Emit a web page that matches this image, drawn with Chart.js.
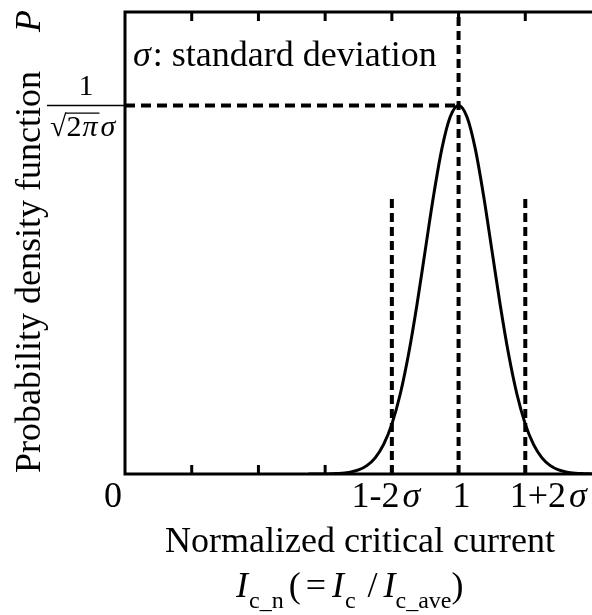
<!DOCTYPE html>
<html>
<head>
<meta charset="utf-8">
<script src="https://cdn.jsdelivr.net/npm/chart.js@4.4.0/dist/chart.umd.min.js"></script>
<style>
  html, body { margin: 0; padding: 0; background: #fff; }
  #wrap { width: 592px; height: 615px; }
</style>
</head>
<body>
<div id="wrap"><canvas id="pdf" width="592" height="615"></canvas></div>
<script>
// Normal distribution of normalized Ic (sigma = 0.1)
const curveX = [0.55, 0.575, 0.6, 0.625, 0.65, 0.675, 0.7, 0.725, 0.75, 0.775,
  0.8, 0.825, 0.85, 0.875, 0.9, 0.925, 0.95, 0.975, 1.0, 1.025, 1.05, 1.075,
  1.1, 1.125, 1.15, 1.175, 1.2, 1.225, 1.25, 1.275, 1.3, 1.325, 1.35, 1.375, 1.4];
const curveY = [0.000, 0.001, 0.001, 0.004, 0.009, 0.020, 0.044, 0.091, 0.175, 0.317,
  0.540, 0.863, 1.295, 1.826, 2.420, 3.011, 3.521, 3.866, 3.989, 3.866, 3.521, 3.011,
  2.420, 1.826, 1.295, 0.863, 0.540, 0.317, 0.175, 0.091, 0.044, 0.020, 0.009, 0.004, 0.001];

// peak = 1 / (sqrt(2 pi) sigma)
const peakValue = 3.989;
const peakX = 1.0;

// dashed verticals at 1-2s, 1, 1+2s and how high they go
const guideX = [0.8, 1.0, 1.2];
const guideTop = [3, 5, 3];

// axis ranges and inward tick marks
const xRange = [0, 1.4];
const yRange = [0, 5];
const tickValues = [0.2, 0.4, 0.6, 0.8, 1.0, 1.2];

// x tick labels (sigma part drawn in italic)
const xLabelValues = [0, 0.8, 1.0, 1.2];
const xLabelText = ['0', '1-2', '1', '1+2'];
const xLabelSigma = [false, true, false, true];

const SERIF = '"Liberation Serif", "Times New Roman", serif';
const F_BIG = `36px ${SERIF}`;
const F_BIG_I = `italic 36px ${SERIF}`;
const F_SUB = `24px ${SERIF}`;
const F_FRAC = `30px ${SERIF}`;
const F_FRAC_I = `italic 30px ${SERIF}`;

function runsWidth(ctx, runs) {
  let w = 0;
  runs.forEach(r => {
    ctx.font = r.font;
    w += ctx.measureText(r.text).width + (r.gap || 0);
  });
  return w;
}

function drawRuns(ctx, runs, x, y) {
  runs.forEach(r => {
    ctx.font = r.font;
    ctx.fillText(r.text, x, y + (r.dy || 0));
    x += ctx.measureText(r.text).width + (r.gap || 0);
  });
  return x;
}

const annotatePlugin = {
  id: 'annotate',
  afterDraw(chart) {
    const { ctx, chartArea: a, scales: { x, y } } = chart;
    ctx.save();
    ctx.strokeStyle = '#000';
    ctx.fillStyle = '#000';
    ctx.lineCap = 'butt';

    // frame (left, top, bottom); right side falls off the canvas
    ctx.lineWidth = 3;
    ctx.beginPath();
    ctx.moveTo(a.left, a.top);
    ctx.lineTo(a.right, a.top);
    ctx.moveTo(a.left, a.top - 1.5);
    ctx.lineTo(a.left, a.bottom + 1.5);
    ctx.moveTo(a.left, a.bottom);
    ctx.lineTo(a.right, a.bottom);
    // inward ticks
    tickValues.forEach(v => {
      const px = x.getPixelForValue(v);
      ctx.moveTo(px, a.top);
      ctx.lineTo(px, a.top + 9);
      ctx.moveTo(px, a.bottom);
      ctx.lineTo(px, a.bottom - 9);
    });
    ctx.stroke();

    // x tick labels
    const nudge = [-12, -6, 3, 23];
    ctx.textBaseline = 'alphabetic';
    ctx.textAlign = 'left';
    xLabelValues.forEach((v, i) => {
      const runs = [{ text: xLabelText[i], font: F_BIG, gap: xLabelSigma[i] ? 3 : 0 }];
      if (xLabelSigma[i]) runs.push({ text: 'σ', font: F_BIG_I });
      const w = runsWidth(ctx, runs);
      const cx = x.getPixelForValue(v) + nudge[i];
      drawRuns(ctx, runs, cx - w / 2, 507);
    });

    // note in the top-left corner
    drawRuns(ctx, [
      { text: 'σ', font: F_BIG_I, gap: 2 },
      { text: ': standard deviation', font: F_BIG }
    ], 133, 66);

    // peak value label 1 / (sqrt(2 pi) sigma)
    const py = y.getPixelForValue(peakValue);
    ctx.font = F_FRAC;
    ctx.textAlign = 'center';
    ctx.fillText('1', 86, py - 10);
    ctx.textAlign = 'left';
    ctx.lineWidth = 1.5;
    ctx.beginPath();
    ctx.moveTo(47, py);
    ctx.lineTo(a.left, py);
    ctx.stroke();
    ctx.font = F_FRAC;
    const rootW = ctx.measureText('√').width;
    const rootTop = ctx.measureText('√').actualBoundingBoxAscent;
    ctx.fillText('√', 50, py + 31);
    const endX = drawRuns(ctx, [
      { text: '2', font: F_FRAC, gap: 1 },
      { text: 'π', font: F_FRAC_I, gap: 3 }
    ], 50 + rootW, py + 31);
    ctx.font = F_FRAC_I;
    ctx.fillText('σ', endX, py + 31);
    ctx.lineWidth = 1.3;
    ctx.beginPath();
    ctx.moveTo(50 + rootW - 1, py + 31 - rootTop + 0.7);
    ctx.lineTo(endX - 1, py + 31 - rootTop + 0.7);
    ctx.stroke();

    // y axis title
    ctx.save();
    ctx.translate(40, 473);
    ctx.rotate(-Math.PI / 2);
    ctx.font = F_BIG;
    ctx.fillText('Probability density function', 0, 0);
    ctx.font = F_BIG_I;
    ctx.fillText('P', 441, 0);
    ctx.restore();

    // x axis title
    ctx.font = F_BIG;
    ctx.textAlign = 'center';
    ctx.fillText('Normalized critical current', 360, 552);
    ctx.textAlign = 'left';
    drawRuns(ctx, [
      { text: 'I', font: F_BIG_I, gap: 1 },
      { text: 'c_n', font: F_SUB, dy: 11, gap: 5 },
      { text: '(', font: F_BIG, gap: 5 },
      { text: '=', font: F_BIG, gap: 6 },
      { text: 'I', font: F_BIG_I, gap: 1 },
      { text: 'c', font: F_SUB, dy: 11, gap: 12 },
      { text: '/', font: F_BIG, gap: 6 },
      { text: 'I', font: F_BIG_I, gap: 0 },
      { text: 'c_ave', font: F_SUB, dy: 11, gap: 0 },
      { text: ')', font: F_BIG }
    ], 236, 597);

    ctx.restore();
  }
};

const curveData = curveX.map((v, i) => ({ x: v, y: curveY[i] }));
const guideSets = guideX.map((v, i) => ({
  data: [{ x: v, y: 0 }, { x: v, y: guideTop[i] }],
  borderColor: '#000',
  borderWidth: 4,
  borderDash: [9, 5],
  pointRadius: 0,
  fill: false
}));

new Chart(document.getElementById('pdf').getContext('2d'), {
  type: 'line',
  data: {
    datasets: [
      {
        data: curveData,
        borderColor: '#000',
        borderWidth: 3,
        cubicInterpolationMode: 'monotone',
        pointRadius: 0,
        fill: false
      },
      {
        data: [{ x: xRange[0], y: peakValue }, { x: peakX, y: peakValue }],
        borderColor: '#000',
        borderWidth: 4,
        borderDash: [10, 6],
        pointRadius: 0,
        fill: false
      },
      ...guideSets
    ]
  },
  options: {
    responsive: false,
    devicePixelRatio: 1,
    animation: false,
    layout: { padding: { left: 125, top: 12, right: 0, bottom: 141 } },
    plugins: { legend: { display: false }, tooltip: { enabled: false } },
    scales: {
      x: { type: 'linear', min: xRange[0], max: xRange[1], display: false },
      y: { type: 'linear', min: yRange[0], max: yRange[1], display: false }
    }
  },
  plugins: [annotatePlugin]
});
</script>
</body>
</html>
